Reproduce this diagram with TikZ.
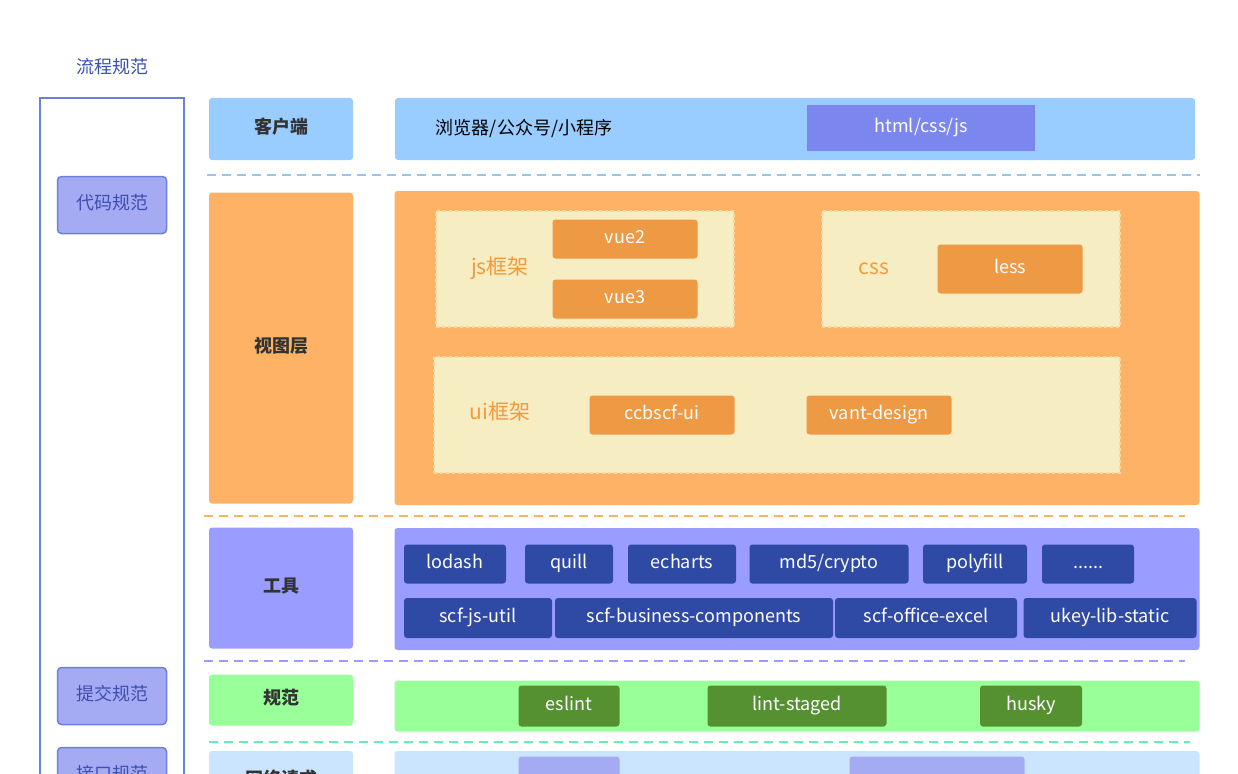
\documentclass[tikz,border=0pt]{standalone}
\usepackage{fontspec}
\setmainfont{Noto Sans CJK SC}
\definecolor{flowblue}{HTML}{3D4FB0}
\definecolor{frameblue}{HTML}{6B7FE0}
\definecolor{lilac}{HTML}{A5ABF3}
\definecolor{skyblue}{HTML}{99CCFF}
\definecolor{htmlblue}{HTML}{7B86EE}
\definecolor{orangebg}{HTML}{FDB266}
\definecolor{orangetag}{HTML}{EE9A45}
\definecolor{cream}{HTML}{F6EDC3}
\definecolor{creamline}{HTML}{F8D8A0}
\definecolor{orangetext}{HTML}{F29A3C}
\definecolor{violet}{HTML}{9A9CFF}
\definecolor{navytag}{HTML}{2F4AA5}
\definecolor{mint}{HTML}{99FF99}
\definecolor{leaf}{HTML}{559130}
\definecolor{seafoam}{HTML}{66F0B0}
\definecolor{paleblue}{HTML}{CCE5FF}
\definecolor{dashblue}{HTML}{99C4F0}
\definecolor{ink}{HTML}{333333}

\begin{document}
\begin{tikzpicture}[x=1pt,y=-1pt,font=\fontsize{18}{20}\selectfont,
    every node/.append style={text height=13pt,text depth=4pt},
    layer/.style={rectangle,rounded corners=3pt,inner sep=0pt,font=\fontsize{18}{20}\selectfont\bfseries,text=ink},
    band/.style={rectangle,rounded corners=3pt,inner sep=0pt},
    tag/.style={rectangle,rounded corners=3pt,inner sep=0pt,text=white,minimum height=39pt},
    rule/.style={flowblue,rounded corners=4pt,draw=frameblue,fill=lilac,line width=1.5pt,minimum width=109pt,minimum height=57pt,inner sep=0pt},
    group/.style={rectangle,fill=cream,draw=creamline,dashed,line width=2pt,inner sep=0pt},
    grouptext/.style={text=orangetext,font=\fontsize{21}{24}\selectfont},
    sep/.style={line width=2.5pt,dash pattern=on 9pt off 6pt}]

    \useasboundingbox (0,0) rectangle (1238,773);
    \clip (0,0) rectangle (1238,773);

    % left column
    \node[text=flowblue] (flow) at (112,69) {流程规范};
    \draw[frameblue,line width=1.5pt] (40,800) -- (40,98) -- (184,98) -- (184,800);
    \node[rule] (code) at (112,205) {代码规范};
    \node[rule] (commit) at (112,696) {提交规范};
    \node[rule] (api) at (112,776) {接口规范};

    % client
    \node[layer,fill=skyblue,minimum width=144pt,minimum height=62pt] (client) at (281,129) {客户端};
    \node[band,fill=skyblue,minimum width=800pt,minimum height=62pt] (clientbg) at (795,129) {};
    \node (browser) at (524,130) {浏览器/公众号/小程序};
    \node[band,rounded corners=0pt,fill=htmlblue,text=white,minimum width=228pt,minimum height=45pt] (html) at (921,128) {html/css/js};
    \coordinate (s1a) at (207,175); \coordinate (s1b) at (1200,175);
    \draw[sep,dashblue] (s1a) -- (s1b);

    % view
    \node[layer,fill=orangebg,minimum width=144pt,minimum height=311pt] (view) at (281,348) {视图层};
    \node[band,fill=orangebg,minimum width=805pt,minimum height=314pt] (viewbg) at (797,348) {};
    \node[group,minimum width=298pt,minimum height=116pt] (jsbox) at (585,269) {};
    \node[grouptext] (js) at (500,270) {js框架};
    \node[tag,fill=orangetag,minimum width=145pt] (vue2) at (625,239) {vue2};
    \node[tag,fill=orangetag,minimum width=145pt] (vue3) at (625,299) {vue3};
    \node[group,minimum width=298pt,minimum height=116pt] (cssbox) at (971,269) {};
    \node[grouptext] (css) at (874,270) {css};
    \node[tag,fill=orangetag,minimum width=145pt,minimum height=49pt] (less) at (1010,269) {less};
    \node[group,minimum width=686pt,minimum height=116pt] (uibox) at (777,415) {};
    \node[grouptext] (ui) at (500,415) {ui框架};
    \node[tag,fill=orangetag,minimum width=145pt] (ccb) at (662,415) {ccbscf-ui};
    \node[tag,fill=orangetag,minimum width=145pt] (vant) at (879,415) {vant-design};
    \coordinate (s2a) at (204,516); \coordinate (s2b) at (1185,516);
    \draw[sep,orangebg] (s2a) -- (s2b);

    % tools
    \node[layer,fill=violet,minimum width=144pt,minimum height=121pt] (tools) at (281,588) {工具};
    \node[band,fill=violet,minimum width=805pt,minimum height=122pt] (toolsbg) at (797,589) {};
    \node[tag,fill=navytag,minimum width=102pt] (lodash) at (455,564) {lodash};
    \node[tag,fill=navytag,minimum width=88pt] (quill) at (569,564) {quill};
    \node[tag,fill=navytag,minimum width=108pt] (echarts) at (682,564) {echarts};
    \node[tag,fill=navytag,minimum width=159pt] (md5) at (829,564) {md5/crypto};
    \node[tag,fill=navytag,minimum width=104pt] (polyfill) at (975,564) {polyfill};
    \node[tag,fill=navytag,minimum width=92pt] (more) at (1088,564) {......};
    \node[tag,fill=navytag,minimum width=148pt,minimum height=40pt] (jsutil) at (478,618) {scf-js-util};
    \node[tag,fill=navytag,minimum width=278pt,minimum height=40pt] (business) at (694,618) {scf-business-components};
    \node[tag,fill=navytag,minimum width=182pt,minimum height=40pt] (excel) at (926,618) {scf-office-excel};
    \node[tag,fill=navytag,minimum width=173pt,minimum height=40pt] (ukey) at (1110,618) {ukey-lib-static};
    \coordinate (s3a) at (204,661); \coordinate (s3b) at (1185,661);
    \draw[sep,violet] (s3a) -- (s3b);

    % lint
    \node[layer,fill=mint,minimum width=144pt,minimum height=51pt] (lint) at (281,700) {规范};
    \node[band,fill=mint,minimum width=805pt,minimum height=51pt] (lintbg) at (797,706) {};
    \node[tag,fill=leaf,minimum width=101pt,minimum height=41pt] (eslint) at (569,706) {eslint};
    \node[tag,fill=leaf,minimum width=179pt,minimum height=41pt] (staged) at (797,706) {lint-staged};
    \node[tag,fill=leaf,minimum width=102pt,minimum height=41pt] (husky) at (1031,706) {husky};
    \coordinate (s4a) at (209,742); \coordinate (s4b) at (1190,742);
    \draw[sep,seafoam] (s4a) -- (s4b);

    % network
    \node[layer,fill=paleblue,minimum width=144pt,minimum height=60pt] (net) at (281,781) {网络请求};
    \node[band,fill=paleblue,minimum width=805pt,minimum height=60pt] (netbg) at (797,781) {};
    \node[tag,fill=lilac,minimum width=101pt,minimum height=41pt] (req1) at (569,777) {};
    \node[tag,fill=lilac,minimum width=175pt,minimum height=41pt] (req2) at (937,777) {};
\end{tikzpicture}
\end{document}
